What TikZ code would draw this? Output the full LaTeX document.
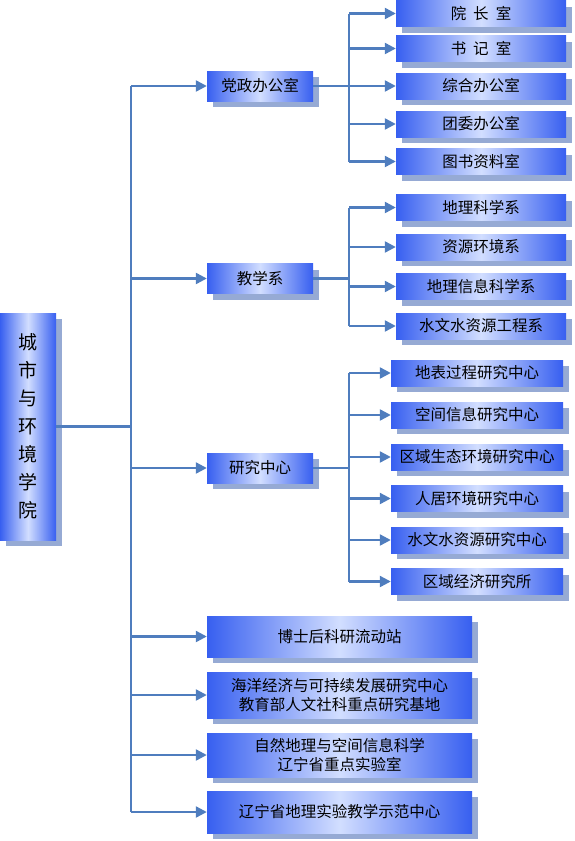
\documentclass[tikz,border=0pt]{standalone}
\usepackage{fontspec}
\newfontfamily\cjk{Noto Sans CJK SC}
\usetikzlibrary{arrows.meta,shadows}
\definecolor{boxblue}{RGB}{55,95,240}
\definecolor{boxlight}{RGB}{210,222,255}
\definecolor{shadowc}{RGB}{150,170,212}
\definecolor{linec}{RGB}{79,125,190}

\begin{document}
\begin{tikzpicture}[x=1pt,y=-1pt,
  box/.style={draw=none, left color=boxblue, right color=boxblue, middle color=boxlight,
    drop shadow={shadow xshift=6pt, shadow yshift=-6pt, fill=shadowc, opacity=1},
    font=\cjk\fontsize{15.5}{19}\selectfont, inner sep=0pt, align=center},
  leaf/.style={box, minimum width=170pt, minimum height=26pt},
  sect/.style={box, minimum width=106pt, minimum height=30pt},
  wide/.style={box, minimum width=265pt},
  bus/.style={draw=linec, line width=2.3pt},
  arr/.style={bus, -{Triangle[length=11pt,width=11pt]}}]
\useasboundingbox (0,0) rectangle (575,841);

% Root
\node[box, minimum width=56pt, minimum height=227pt,
  font=\cjk\fontsize{19}{28}\selectfont] (root) at (28,426.5)
  {城\\市\\与\\环\\境\\学\\院};

% Level one
\node[sect] (dz) at (260,86) {党政办公室};
\node[sect] (jx) at (260,278.5) {教学系};
\node[sect] (yj) at (260,468) {研究中心};
\node[wide, minimum height=41pt] (bs) at (339.5,636.5) {博士后科研流动站};
\node[wide, minimum height=46pt] (hy) at (339.5,695) {海洋经济与可持续发展研究中心\\教育部人文社科重点研究基地};
\node[wide, minimum height=44pt] (zr) at (339.5,755) {自然地理与空间信息科学\\辽宁省重点实验室};
\node[wide, minimum height=42pt] (ln) at (339.5,812) {辽宁省地理实验教学示范中心};

% Offices
\node[leaf] (yz) at (481,13.5) {院\hspace{7pt}长\hspace{7pt}室};
\node[leaf] (sj) at (481,48.5) {书\hspace{7pt}记\hspace{7pt}室};
\node[leaf] (zh) at (481,86) {综合办公室};
\node[leaf] (tw) at (481,124) {团委办公室};
\node[leaf] (ts) at (481,161.5) {图书资料室};

% Departments
\node[leaf] (dl) at (481,207.5) {地理科学系};
\node[leaf] (zy) at (481,247) {资源环境系};
\node[leaf] (xx) at (481,286.5) {地理信息科学系};
\node[leaf] (sw) at (481,326) {水文水资源工程系};

% Research centres
\node[leaf, minimum width=172pt] (db) at (477,373) {地表过程研究中心};
\node[leaf, minimum width=172pt] (kj) at (477,415) {空间信息研究中心};
\node[leaf, minimum width=172pt] (qs) at (477,457) {区域生态环境研究中心};
\node[leaf, minimum width=172pt] (rj) at (477,498.5) {人居环境研究中心};
\node[leaf, minimum width=172pt] (sz) at (477,540) {水文水资源研究中心};
\node[leaf, minimum width=172pt] (qj) at (477,581.5) {区域经济研究所};

% Trunk
\coordinate (trunk) at (131,0);
\coordinate (fork) at (349,0);
\draw[bus] (root.east) -- (root.east -| trunk);
\draw[bus] (dz.west -| trunk) -- (ln.west -| trunk);
\foreach \t in {dz,jx,yj,bs,hy,zr,ln}
  \draw[arr] (\t.west -| trunk) -- (\t.west);

% Branches
\draw[bus] (dz.east) -- (dz.east -| fork);
\draw[bus] (yz.west -| fork) -- (ts.west -| fork);
\foreach \t in {yz,sj,zh,tw,ts}
  \draw[arr] (\t.west -| fork) -- (\t.west);

\draw[bus] (jx.east) -- (jx.east -| fork);
\draw[bus] (dl.west -| fork) -- (sw.west -| fork);
\foreach \t in {dl,zy,xx,sw}
  \draw[arr] (\t.west -| fork) -- (\t.west);

\draw[bus] (yj.east) -- (yj.east -| fork);
\draw[bus] (db.west -| fork) -- (qj.west -| fork);
\foreach \t in {db,kj,qs,rj,sz,qj}
  \draw[arr] (\t.west -| fork) -- (\t.west);
\end{tikzpicture}
\end{document}
